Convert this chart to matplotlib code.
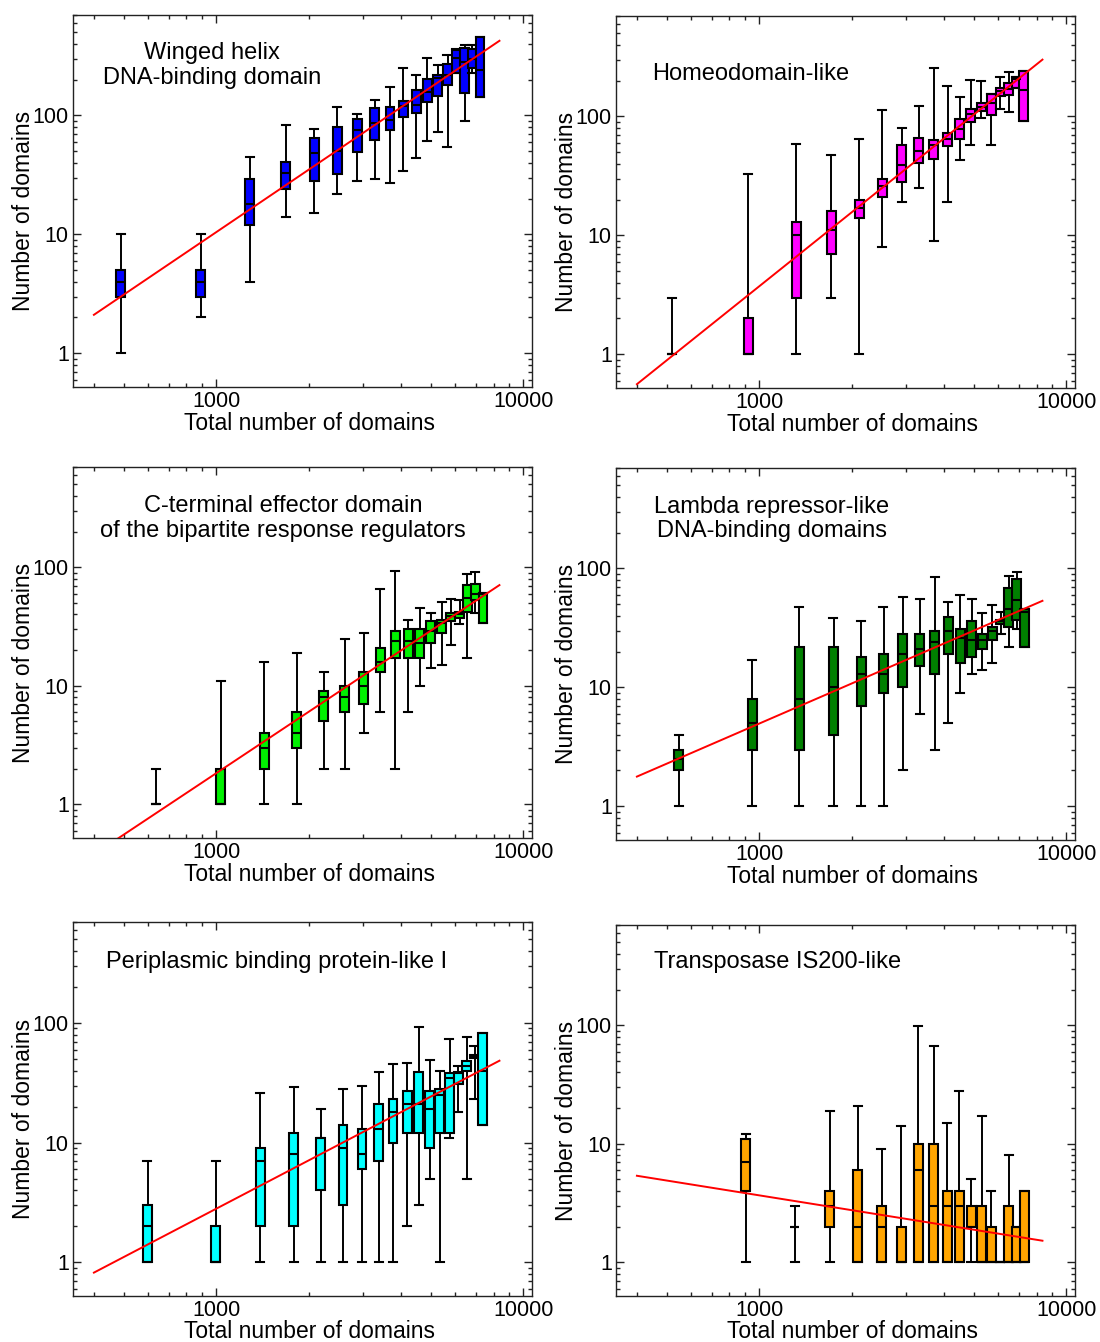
import numpy as np
import matplotlib
matplotlib.use("Agg")
import matplotlib.pyplot as plt
from matplotlib.ticker import LogLocator, NullFormatter, FixedLocator, FixedFormatter

plt.rcParams['font.family'] = ['Liberation Sans', 'DejaVu Sans']

# ---------------- data ----------------
titles = [
    "Winged helix\nDNA-binding domain",
    "Homeodomain-like",
    "C-terminal effector domain\nof the bipartite response regulators",
    "Lambda repressor-like\nDNA-binding domains",
    "Periplasmic binding protein-like I",
    "Transposase IS200-like",
]
colors = ["#0000ff", "#ff00ff", "#00f000", "#008000", "#00ffff", "#ffa500"]

# Panel 1: Winged helix
x1 = [490, 892, 1289, 1687, 2086, 2483, 2884, 3282, 3683, 4067, 4483, 4875, 5269, 5664, 6044, 6450, 6810, 7228]
lo1 = [1, 2, 4, 14, 15, 22, 28, 29, 27, 34, 44, 61, 72, 54, 228, 90, 228, 143]
q1_1 = [3, 3, 12, 24, 28, 32, 49, 62, 76, 98, 105, 130, 145, 179, 228, 155, 251, 143]
md1 = [4, 4, 18, 33, 48, 50, 75, 86, 91, 121, 122, 158, 207, 221, 305, 280, 296, 240]
q3_1 = [5, 5, 29, 41, 65, 80, 93, 116, 117, 132, 165, 201, 217, 272, 352, 371, 364, 455]
hi1 = [10, 10, 45, 83, 77, 117, 102, 136, 174, 249, 220, 305, 265, 321, 360, 388, 395, 455]

# Panel 2: Homeodomain-like
x2 = [519, 921, 1320, 1716, 2117, 2514, 2915, 3311, 3706, 4104, 4493, 4877, 5283, 5700, 6097, 6489, 6873, 7278]
lo2 = [1, 1, 1, 3, 1, 8, 19, 25, 9, 19, 43, 57, 97, 57, 115, 110, 173, 92]
q1_2 = [1, 1, 3, 7, 14, 21, 28, 41, 44, 56, 65, 90, 112, 103, 149, 151, 173, 92]
md2 = [1, 1, 10, 11, 17, 26, 39, 51, 57, 65, 78, 105, 121, 131, 165, 170, 205, 167]
q3_2 = [1, 2, 13, 16, 20, 30, 57, 66, 64, 73, 95, 115, 130, 154, 172, 190, 213, 239]
hi2 = [3, 33, 59, 47, 65, 113, 80, 122, 255, 179, 146, 204, 200, 156, 213, 235, 216, 239]

# Panel 3: C-terminal effector domain
x3 = [637, 1035, 1435, 1833, 2237, 2624, 3022, 3424, 3830, 4222, 4594, 5000, 5420, 5809, 6199, 6579, 6982, 7396]
lo3 = [1, 1, 1, 1, 2, 2, 4, 6, 2, 6, 10, 14, 15, 22, 33, 17, 41, 34]
q1_3 = [1, 1, 2, 3, 5, 6, 7, 13, 17, 17, 17, 23, 28, 35, 37, 42, 53, 34]
md3 = [1, 1, 3, 4, 8, 8, 10, 16, 24, 24, 23, 29, 34, 39, 40, 55, 60, 60]
q3_3 = [1, 2, 4, 6, 9, 10, 13, 21, 29, 30, 30, 35, 36, 41, 42, 71, 72, 61]
hi3 = [2, 11, 16, 19, 13, 25, 28, 65, 92, 36, 45, 41, 51, 54, 53, 87, 91, 61]

# Panel 4: Lambda repressor-like
x4 = [547, 949, 1350, 1746, 2149, 2540, 2938, 3336, 3733, 4127, 4516, 4931, 5325, 5741, 6124, 6489, 6905, 7315]
lo4 = [1, 1, 1, 1, 1, 1, 2, 6, 3, 5, 9, 13, 14, 16, 28, 22, 31, 22]
q1_4 = [2, 3, 3, 4, 7, 9, 10, 15, 13, 19, 16, 18, 21, 25, 34, 32, 37, 22]
md4 = [2.5, 5, 8, 10, 13, 13, 19, 21, 24, 30, 26, 25, 25, 30, 36, 46, 54, 43]
q3_4 = [3, 8, 22, 22, 18, 19, 28, 28, 30, 39, 31, 36, 28, 32, 37, 68, 81, 46]
hi4 = [4, 17, 47, 38, 36, 47, 58, 55, 85, 52, 60, 55, 42, 49, 43, 87, 94, 46]

# Panel 5: Periplasmic binding protein-like I
x5 = [598, 997, 1393, 1791, 2193, 2590, 2985, 3390, 3766, 4190, 4570, 4966, 5350, 5750, 6150, 6546, 6936, 7380]
lo5 = [1, 1, 1, 1, 1, 1, 1, 1, 1, 2, 3, 5, 1, 11, 18, 5, 23, 14]
q1_5 = [1, 1, 2, 2, 4, 3, 6, 7, 10, 12, 12, 9, 12, 12, 31, 40, 51, 14]
md5 = [2, 1, 7, 8, 11, 9, 8, 13, 18, 21, 21, 19, 25, 35, 38, 44, 52, 40]
q3_5 = [3, 2, 9, 12, 11, 14, 13, 21, 23, 27, 39, 27, 28, 38, 39, 48, 54, 82]
hi5 = [7, 7, 26, 29, 19, 28, 30, 39, 45, 46, 93, 49, 40, 74, 44, 76, 64, 82]

# Panel 6: Transposase IS200-like
x6 = [905, 1306, 1699, 2094, 2503, 2901, 3296, 3698, 4095, 4478, 4900, 5297, 5700, 6095, 6486, 6872, 7296]
lo6 = [1, 1, 1, 1, 1, 1, 1, 1, 1, 1, 1, 1, 1, 1, 1, 1, 1]
q1_6 = [4, 2, 2, 1, 1, 1, 1, 1, 1, 1, 2, 1, 1, 1, 1, 1, 1]
md6 = [7, 2, 3, 2, 2, 1, 6, 3, 3, 3, 2, 1, 1, 1, 1, 1, 1]
q3_6 = [11, 2, 4, 6, 3, 2, 10, 10, 4, 4, 3, 3, 2, 1, 3, 2, 4]
hi6 = [12, 3, 19, 21, 9, 14, 98, 67, 15, 28, 5, 17, 4, 1, 8, 2, 4]

# power-law fits: log10(y) = fit_int + fit_slope * log10(x)
fit_slope = [1.746, 2.068, 1.721, 1.120, 1.343, -0.415]
fit_int = [-4.220, -5.633, -4.901, -2.665, -3.583, 1.810]
fit_xrange = [400, 8360]

panels = [
    (x1, lo1, q1_1, md1, q3_1, hi1),
    (x2, lo2, q1_2, md2, q3_2, hi2),
    (x3, lo3, q1_3, md3, q3_3, hi3),
    (x4, lo4, q1_4, md4, q3_4, hi4),
    (x5, lo5, q1_5, md5, q3_5, hi5),
    (x6, lo6, q1_6, md6, q3_6, hi6),
]

xlim = (342, 10670)
ylim = (0.52, 700)

# title placement (axes fraction), alignment
title_pos = [
    (0.303, 0.864, 'center'),
    (0.078, 0.845, 'left'),
    (0.4575, 0.861, 'center'),
    (0.340, 0.863, 'center'),
    (0.072, 0.893, 'left'),
    (0.083, 0.900, 'left'),
]

W, H = 1100, 1342
fig = plt.figure(figsize=(W / 100, H / 100), dpi=100)

# axes frames in pixels: left, top, right, bottom
frames = [
    (73, 15, 532, 387),
    (616, 16, 1075, 388),
    (73, 467, 532, 838),
    (616, 468, 1075, 840),
    (73, 922, 532, 1296),
    (616, 925, 1075, 1296),
]

half = 0.0145  # half box width in decades
for i, (data, fr) in enumerate(zip(panels, frames)):
    l, t, r, b = fr
    ax = fig.add_axes([l / W, 1 - b / H, (r - l) / W, (b - t) / H])
    xs, lo, q1, md, q3, hi = data
    stats = []
    for j in range(len(xs)):
        stats.append(dict(whislo=lo[j], q1=q1[j], med=md[j], q3=q3[j], whishi=hi[j], fliers=[]))
    xs_arr = np.array(xs, dtype=float)
    widths = xs_arr * (10 ** half - 10 ** -half)
    capw = xs_arr * (10 ** 0.013 - 10 ** -0.013)
    ax.bxp(stats, positions=xs_arr, widths=widths, capwidths=capw, patch_artist=True,
           showfliers=False, manage_ticks=False,
           boxprops=dict(facecolor=colors[i], edgecolor='black', linewidth=1.5),
           medianprops=dict(color='black', linewidth=1.5),
           whiskerprops=dict(color='black', linewidth=1.4),
           capprops=dict(color='black', linewidth=1.5))
    fx = np.array(fit_xrange, dtype=float)
    fy = 10 ** (fit_int[i] + fit_slope[i] * np.log10(fx))
    ax.plot(fx, fy, color='red', linewidth=1.4, zorder=5)

    ax.set_xscale('log')
    ax.set_yscale('log')
    ax.set_xlim(*xlim)
    ax.set_ylim(*ylim)
    ax.xaxis.set_major_locator(FixedLocator([1000, 10000]))
    ax.xaxis.set_major_formatter(FixedFormatter(['1000', '10000']))
    ax.xaxis.set_minor_locator(LogLocator(base=10, subs=np.arange(2, 10), numticks=20))
    ax.xaxis.set_minor_formatter(NullFormatter())
    ax.yaxis.set_major_locator(FixedLocator([1, 10, 100]))
    ax.yaxis.set_major_formatter(FixedFormatter(['1', '10', '100']))
    ax.yaxis.set_minor_locator(LogLocator(base=10, subs=np.arange(2, 10), numticks=20))
    ax.yaxis.set_minor_formatter(NullFormatter())
    ax.tick_params(which='both', direction='in', top=True, right=True, width=1.0, colors='#222222')
    ax.tick_params(which='major', length=6, pad=3, labelsize=15.5, labelcolor='black')
    ax.tick_params(which='minor', length=3)
    for s in ax.spines.values():
        s.set_linewidth(1.0)
        s.set_color('#222222')
    ax.set_xlabel('Total number of domains', fontsize=16.5, labelpad=(-1 if i >= 4 else 0))
    ax.set_ylabel('Number of domains', fontsize=16.5, labelpad=-2)
    ax.xaxis.label.set_x(0.516)
    ax.yaxis.label.set_y(0.473)

    tx, ty, ha = title_pos[i]
    ax.text(tx, ty, titles[i], transform=ax.transAxes, ha=ha, va='center',
            multialignment='center', fontsize=17, linespacing=1.15)

fig.savefig('out.png', dpi=100)
